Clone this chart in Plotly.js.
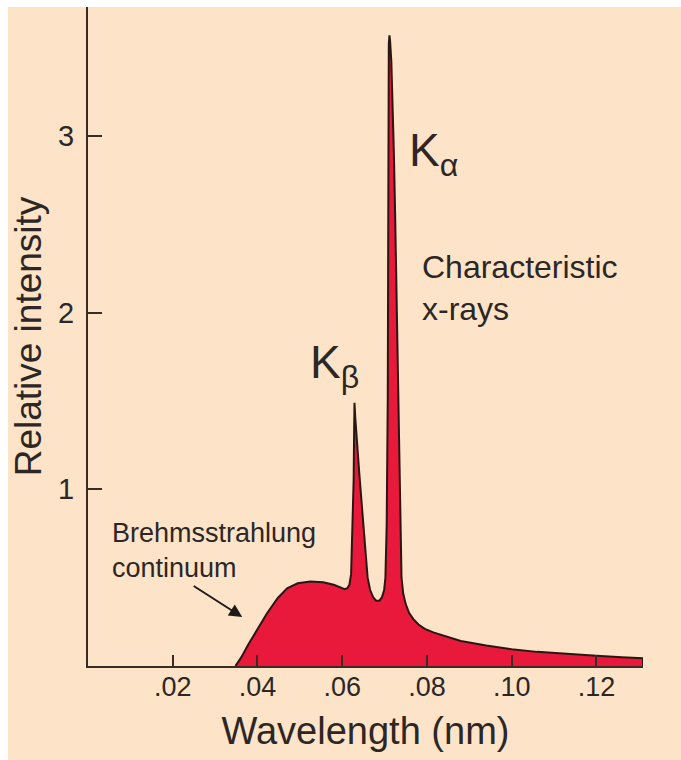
<!DOCTYPE html>
<html>
<head>
<meta charset="utf-8">
<script src="https://cdn.plot.ly/plotly-3.0.1.min.js"></script>
<style>
  html, body { margin: 0; padding: 0; background: #ffffff; width: 681px; height: 760px; overflow: hidden; }
  #chart { position: absolute; left: 8px; top: 7px; width: 673px; height: 753px; }
</style>
</head>
<body>
<div id="chart"></div>
<script>
// Wavelength (nm) and relative intensity
const wavelength = [
  0.0348, 0.0362, 0.0378, 0.0400, 0.0423, 0.0448, 0.0470, 0.0495, 0.0525, 0.0555,
  0.0580, 0.0596, 0.0605, 0.0612, 0.0617, 0.0621, 0.0624, 0.0627, 0.0628, 0.0629,
  0.0631, 0.0635, 0.0640, 0.0645, 0.0650, 0.0655, 0.0660, 0.0666, 0.0673,
  0.0680, 0.0688, 0.0694, 0.0699, 0.0702, 0.0705, 0.07075, 0.0708, 0.07085, 0.0710,
  0.07115, 0.0713, 0.0716, 0.0719, 0.0722, 0.0725, 0.0729, 0.0733, 0.0736, 0.0738, 0.0740,
  0.0744, 0.0750, 0.0758, 0.0768, 0.0780, 0.0795, 0.0815, 0.0840, 0.0880, 0.0940,
  0.1000, 0.1060, 0.1120, 0.1200, 0.1260, 0.1310, 0.1310
];
const intensity = [
  0.000, 0.050, 0.120, 0.210, 0.300, 0.385, 0.440, 0.468, 0.478, 0.474,
  0.460, 0.445, 0.435, 0.440, 0.460, 0.520, 0.750, 1.050, 1.300, 1.490,
  1.400, 1.250, 1.100, 0.950, 0.780, 0.620, 0.500, 0.430, 0.390,
  0.370, 0.370, 0.390, 0.430, 0.500, 0.800, 1.500, 2.500, 3.250, 3.520,
  3.570, 3.540, 3.420, 3.200, 2.900, 2.550, 2.000, 1.550, 1.050, 0.700, 0.500,
  0.410, 0.350, 0.300, 0.265, 0.235, 0.210, 0.190, 0.170, 0.142, 0.116,
  0.095, 0.080, 0.069, 0.058, 0.050, 0.044, 0.000
];

const xTickVals = [0.02, 0.04, 0.06, 0.08, 0.10, 0.12];
const xTickText = ['.02', '.04', '.06', '.08', '.10', '.12'];
const yTickVals = [1, 2, 3];
const yTickText = ['1', '2', '3'];

const FONT = 'Liberation Sans, Arial, Helvetica, sans-serif';
const INK = '#2c2724';
const AXIS = '#3a2b24';

const trace = {
  x: wavelength,
  y: intensity,
  type: 'scatter',
  mode: 'lines',
  fill: 'tozeroy',
  fillcolor: '#E8193B',
  line: { color: '#2a1612', width: 2, shape: 'linear' },
  hoverinfo: 'skip',
  showlegend: false
};

const layout = {
  width: 673,
  height: 753,
  margin: { l: 80, r: 38, t: 0, b: 94 },
  paper_bgcolor: '#FDE3C8',
  plot_bgcolor: '#FDE3C8',
  font: { family: FONT, color: INK },
  showlegend: false,
  xaxis: {
    range: [0, 0.131],
    showgrid: false,
    zeroline: false,
    showline: true,
    linecolor: AXIS,
    linewidth: 2,
    ticks: 'inside',
    ticklen: 11,
    tickwidth: 2,
    tickcolor: AXIS,
    tickvals: xTickVals,
    ticktext: xTickText,
    ticklabelstandoff: -4,
    tickfont: { family: FONT, size: 27, color: INK },
    title: { text: 'Wavelength (nm)', font: { family: FONT, size: 38, color: INK }, standoff: 16 },
    fixedrange: true
  },
  yaxis: {
    range: [0, 3.73],
    showgrid: false,
    zeroline: false,
    showline: true,
    linecolor: AXIS,
    linewidth: 2,
    ticks: 'inside',
    ticklen: 14,
    tickwidth: 2,
    tickcolor: AXIS,
    tickvals: yTickVals,
    ticktext: yTickText,
    ticklabelstandoff: 6,
    tickfont: { family: FONT, size: 29, color: INK },
    title: { text: 'Relative intensity', font: { family: FONT, size: 37, color: INK }, standoff: 6 },
    fixedrange: true
  },
  annotations: [
    {
      xref: 'x', yref: 'y', x: 0.0752, y: 2.90,
      text: 'K<sub>α</sub>', showarrow: false,
      xanchor: 'left', yanchor: 'middle',
      font: { family: FONT, size: 46, color: INK }
    },
    {
      xref: 'x', yref: 'y', x: 0.0520, y: 1.70,
      text: 'K<sub>β</sub>', showarrow: false,
      xanchor: 'left', yanchor: 'middle',
      font: { family: FONT, size: 46, color: INK }
    },
    {
      xref: 'x', yref: 'y', x: 0.0783, y: 2.37,
      text: 'Characteristic<br>x-rays', showarrow: false,
      xanchor: 'left', yanchor: 'top', align: 'left',
      font: { family: FONT, size: 32, color: INK }
    },
    {
      xref: 'x', yref: 'y', x: 0.0052, y: 0.85,
      text: 'Brehmsstrahlung<br>continuum', showarrow: false,
      xanchor: 'left', yanchor: 'top', align: 'left',
      font: { family: FONT, size: 27, color: INK }
    },
    {
      xref: 'x', yref: 'y', x: 0.0364, y: 0.277,
      ax: -50, ay: -32,
      text: '', showarrow: true,
      arrowhead: 2, arrowsize: 1.3, arrowwidth: 2, arrowcolor: '#1e1a18'
    }
  ]
};

Plotly.newPlot('chart', [trace], layout, { displayModeBar: false, staticPlot: true });
</script>
</body>
</html>
